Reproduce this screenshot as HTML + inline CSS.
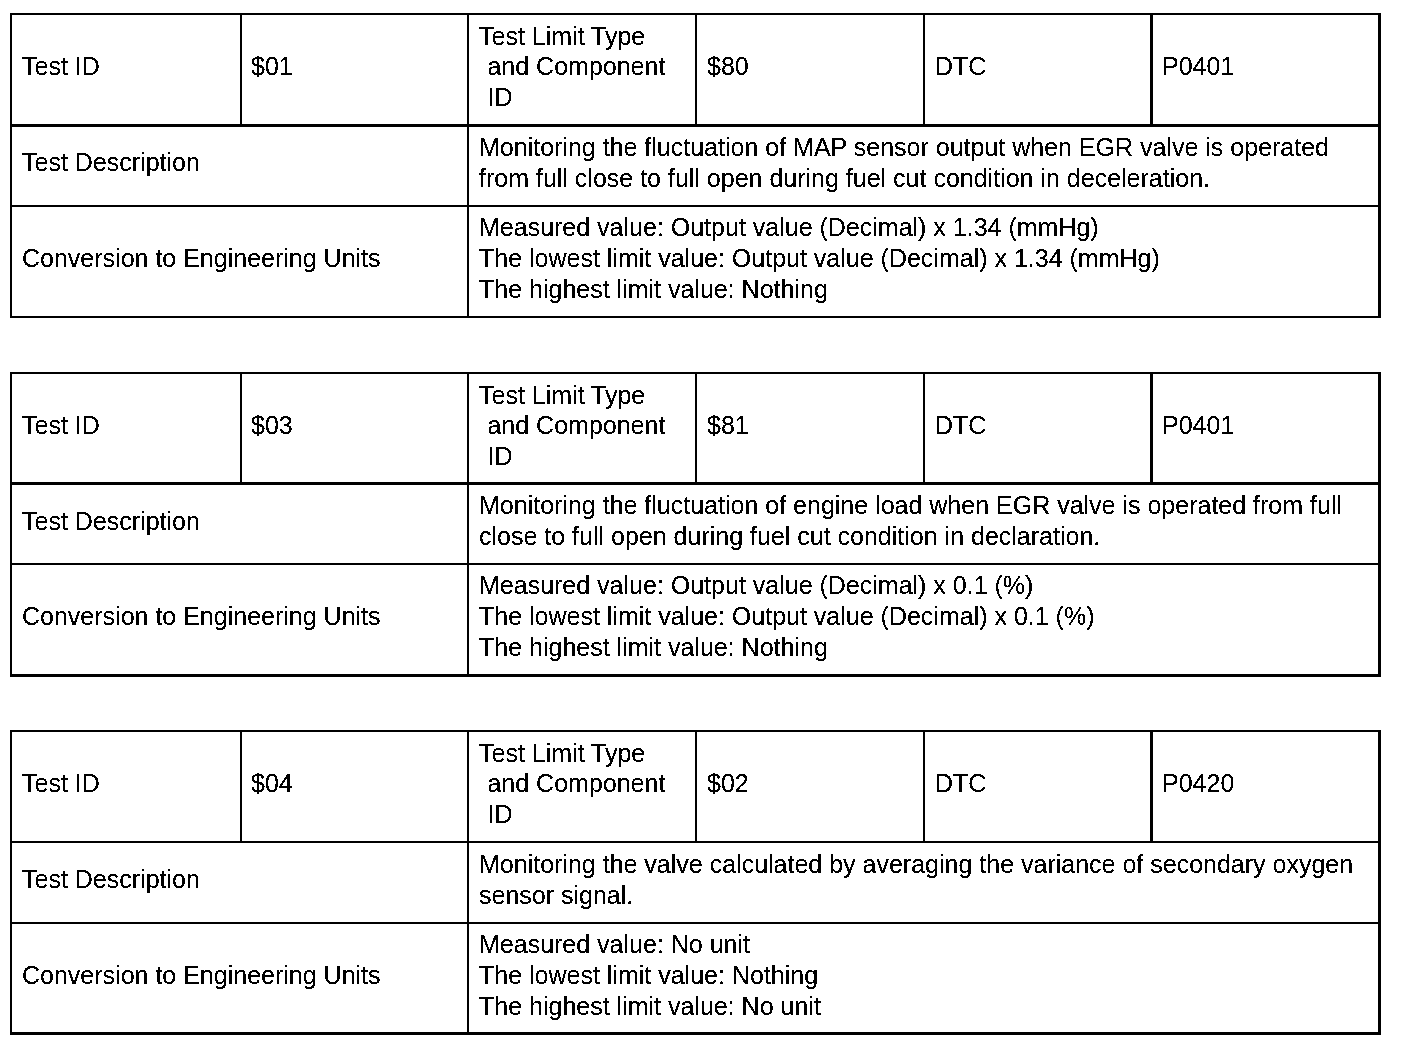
<!DOCTYPE html>
<html><head><meta charset="utf-8"><style>
html,body{margin:0;padding:0;background:#fff;width:1408px;height:1052px;overflow:hidden}
#pg{position:absolute;left:0;top:0;width:1408px;height:1052px;background:#fff;filter:url(#bin)}
i{position:absolute;background:#000;display:block}
p{position:absolute;margin:0;font-family:"Liberation Sans",sans-serif;font-size:25px;white-space:pre;color:#000}
</style></head><body>
<svg width="0" height="0" style="position:absolute"><filter id="bin" x="0" y="0" width="100%" height="100%" color-interpolation-filters="sRGB"><feComponentTransfer><feFuncR type="discrete" tableValues="0 0 0 1 1"/><feFuncG type="discrete" tableValues="0 0 0 1 1"/><feFuncB type="discrete" tableValues="0 0 0 1 1"/></feComponentTransfer></filter></svg>
<div id="pg">
<i style="left:10px;top:13px;width:1371px;height:2px"></i>
<i style="left:10px;top:124px;width:1371px;height:3px"></i>
<i style="left:10px;top:205px;width:1371px;height:2px"></i>
<i style="left:10px;top:316px;width:1371px;height:2px"></i>
<i style="left:10px;top:13px;width:2px;height:305px"></i>
<i style="left:1378px;top:13px;width:3px;height:305px"></i>
<i style="left:240px;top:13px;width:2px;height:111px"></i>
<i style="left:467px;top:13px;width:2px;height:305px"></i>
<i style="left:695px;top:13px;width:2px;height:111px"></i>
<i style="left:923px;top:13px;width:2px;height:111px"></i>
<i style="left:1150px;top:13px;width:3px;height:111px"></i>
<p style="left:22px;top:51px;line-height:30.5px">Test ID</p>
<p style="left:251px;top:51px;line-height:30.5px">$01</p>
<p style="left:479px;top:20.5px;line-height:30.5px">Test Limit Type</p>
<p style="left:480.5px;top:51px;line-height:30.5px"> and Component</p>
<p style="left:480.5px;top:81.5px;line-height:30.5px"> ID</p>
<p style="left:707px;top:51px;line-height:30.5px">$80</p>
<p style="left:935px;top:51px;line-height:30.5px">DTC</p>
<p style="left:1162px;top:51px;line-height:30.5px">P0401</p>
<p style="left:479px;top:132px;line-height:31px">Monitoring the fluctuation of MAP sensor output when EGR valve is operated
from full close to full open during fuel cut condition in deceleration.</p>
<p style="left:22px;top:146.5px;line-height:30.5px">Test Description</p>
<p style="left:479px;top:212px;line-height:31px">Measured value: Output value (Decimal) x 1.34 (mmHg)
The lowest limit value: Output value (Decimal) x 1.34 (mmHg)
The highest limit value: Nothing</p>
<p style="left:22px;top:243px;line-height:30.5px">Conversion to Engineering Units</p>
<i style="left:10px;top:372px;width:1371px;height:2px"></i>
<i style="left:10px;top:482px;width:1371px;height:3px"></i>
<i style="left:10px;top:563px;width:1371px;height:2px"></i>
<i style="left:10px;top:674px;width:1371px;height:3px"></i>
<i style="left:10px;top:372px;width:2px;height:305px"></i>
<i style="left:1378px;top:372px;width:3px;height:305px"></i>
<i style="left:240px;top:372px;width:2px;height:110px"></i>
<i style="left:467px;top:372px;width:2px;height:305px"></i>
<i style="left:695px;top:372px;width:2px;height:110px"></i>
<i style="left:923px;top:372px;width:2px;height:110px"></i>
<i style="left:1150px;top:372px;width:3px;height:110px"></i>
<p style="left:22px;top:410px;line-height:30.5px">Test ID</p>
<p style="left:251px;top:410px;line-height:30.5px">$03</p>
<p style="left:479px;top:379.5px;line-height:30.5px">Test Limit Type</p>
<p style="left:480.5px;top:410px;line-height:30.5px"> and Component</p>
<p style="left:480.5px;top:440.5px;line-height:30.5px"> ID</p>
<p style="left:707px;top:410px;line-height:30.5px">$81</p>
<p style="left:935px;top:410px;line-height:30.5px">DTC</p>
<p style="left:1162px;top:410px;line-height:30.5px">P0401</p>
<p style="left:479px;top:490px;line-height:31px">Monitoring the fluctuation of engine load when EGR valve is operated from full
close to full open during fuel cut condition in declaration.</p>
<p style="left:22px;top:505.5px;line-height:30.5px">Test Description</p>
<p style="left:479px;top:570px;line-height:31px">Measured value: Output value (Decimal) x 0.1 (%)
The lowest limit value: Output value (Decimal) x 0.1 (%)
The highest limit value: Nothing</p>
<p style="left:22px;top:601px;line-height:30.5px">Conversion to Engineering Units</p>
<i style="left:10px;top:730px;width:1371px;height:2px"></i>
<i style="left:10px;top:841px;width:1371px;height:2px"></i>
<i style="left:10px;top:922px;width:1371px;height:2px"></i>
<i style="left:10px;top:1032px;width:1371px;height:3px"></i>
<i style="left:10px;top:730px;width:2px;height:305px"></i>
<i style="left:1378px;top:730px;width:3px;height:305px"></i>
<i style="left:240px;top:730px;width:2px;height:111px"></i>
<i style="left:467px;top:730px;width:2px;height:305px"></i>
<i style="left:695px;top:730px;width:2px;height:111px"></i>
<i style="left:923px;top:730px;width:2px;height:111px"></i>
<i style="left:1150px;top:730px;width:3px;height:111px"></i>
<p style="left:22px;top:768px;line-height:30.5px">Test ID</p>
<p style="left:251px;top:768px;line-height:30.5px">$04</p>
<p style="left:479px;top:737.5px;line-height:30.5px">Test Limit Type</p>
<p style="left:480.5px;top:768px;line-height:30.5px"> and Component</p>
<p style="left:480.5px;top:798.5px;line-height:30.5px"> ID</p>
<p style="left:707px;top:768px;line-height:30.5px">$02</p>
<p style="left:935px;top:768px;line-height:30.5px">DTC</p>
<p style="left:1162px;top:768px;line-height:30.5px">P0420</p>
<p style="left:479px;top:849px;line-height:31px">Monitoring the valve calculated by averaging the variance of secondary oxygen
sensor signal.</p>
<p style="left:22px;top:863.5px;line-height:30.5px">Test Description</p>
<p style="left:479px;top:929px;line-height:31px">Measured value: No unit
The lowest limit value: Nothing
The highest limit value: No unit</p>
<p style="left:22px;top:960px;line-height:30.5px">Conversion to Engineering Units</p>
</div>
</body></html>
